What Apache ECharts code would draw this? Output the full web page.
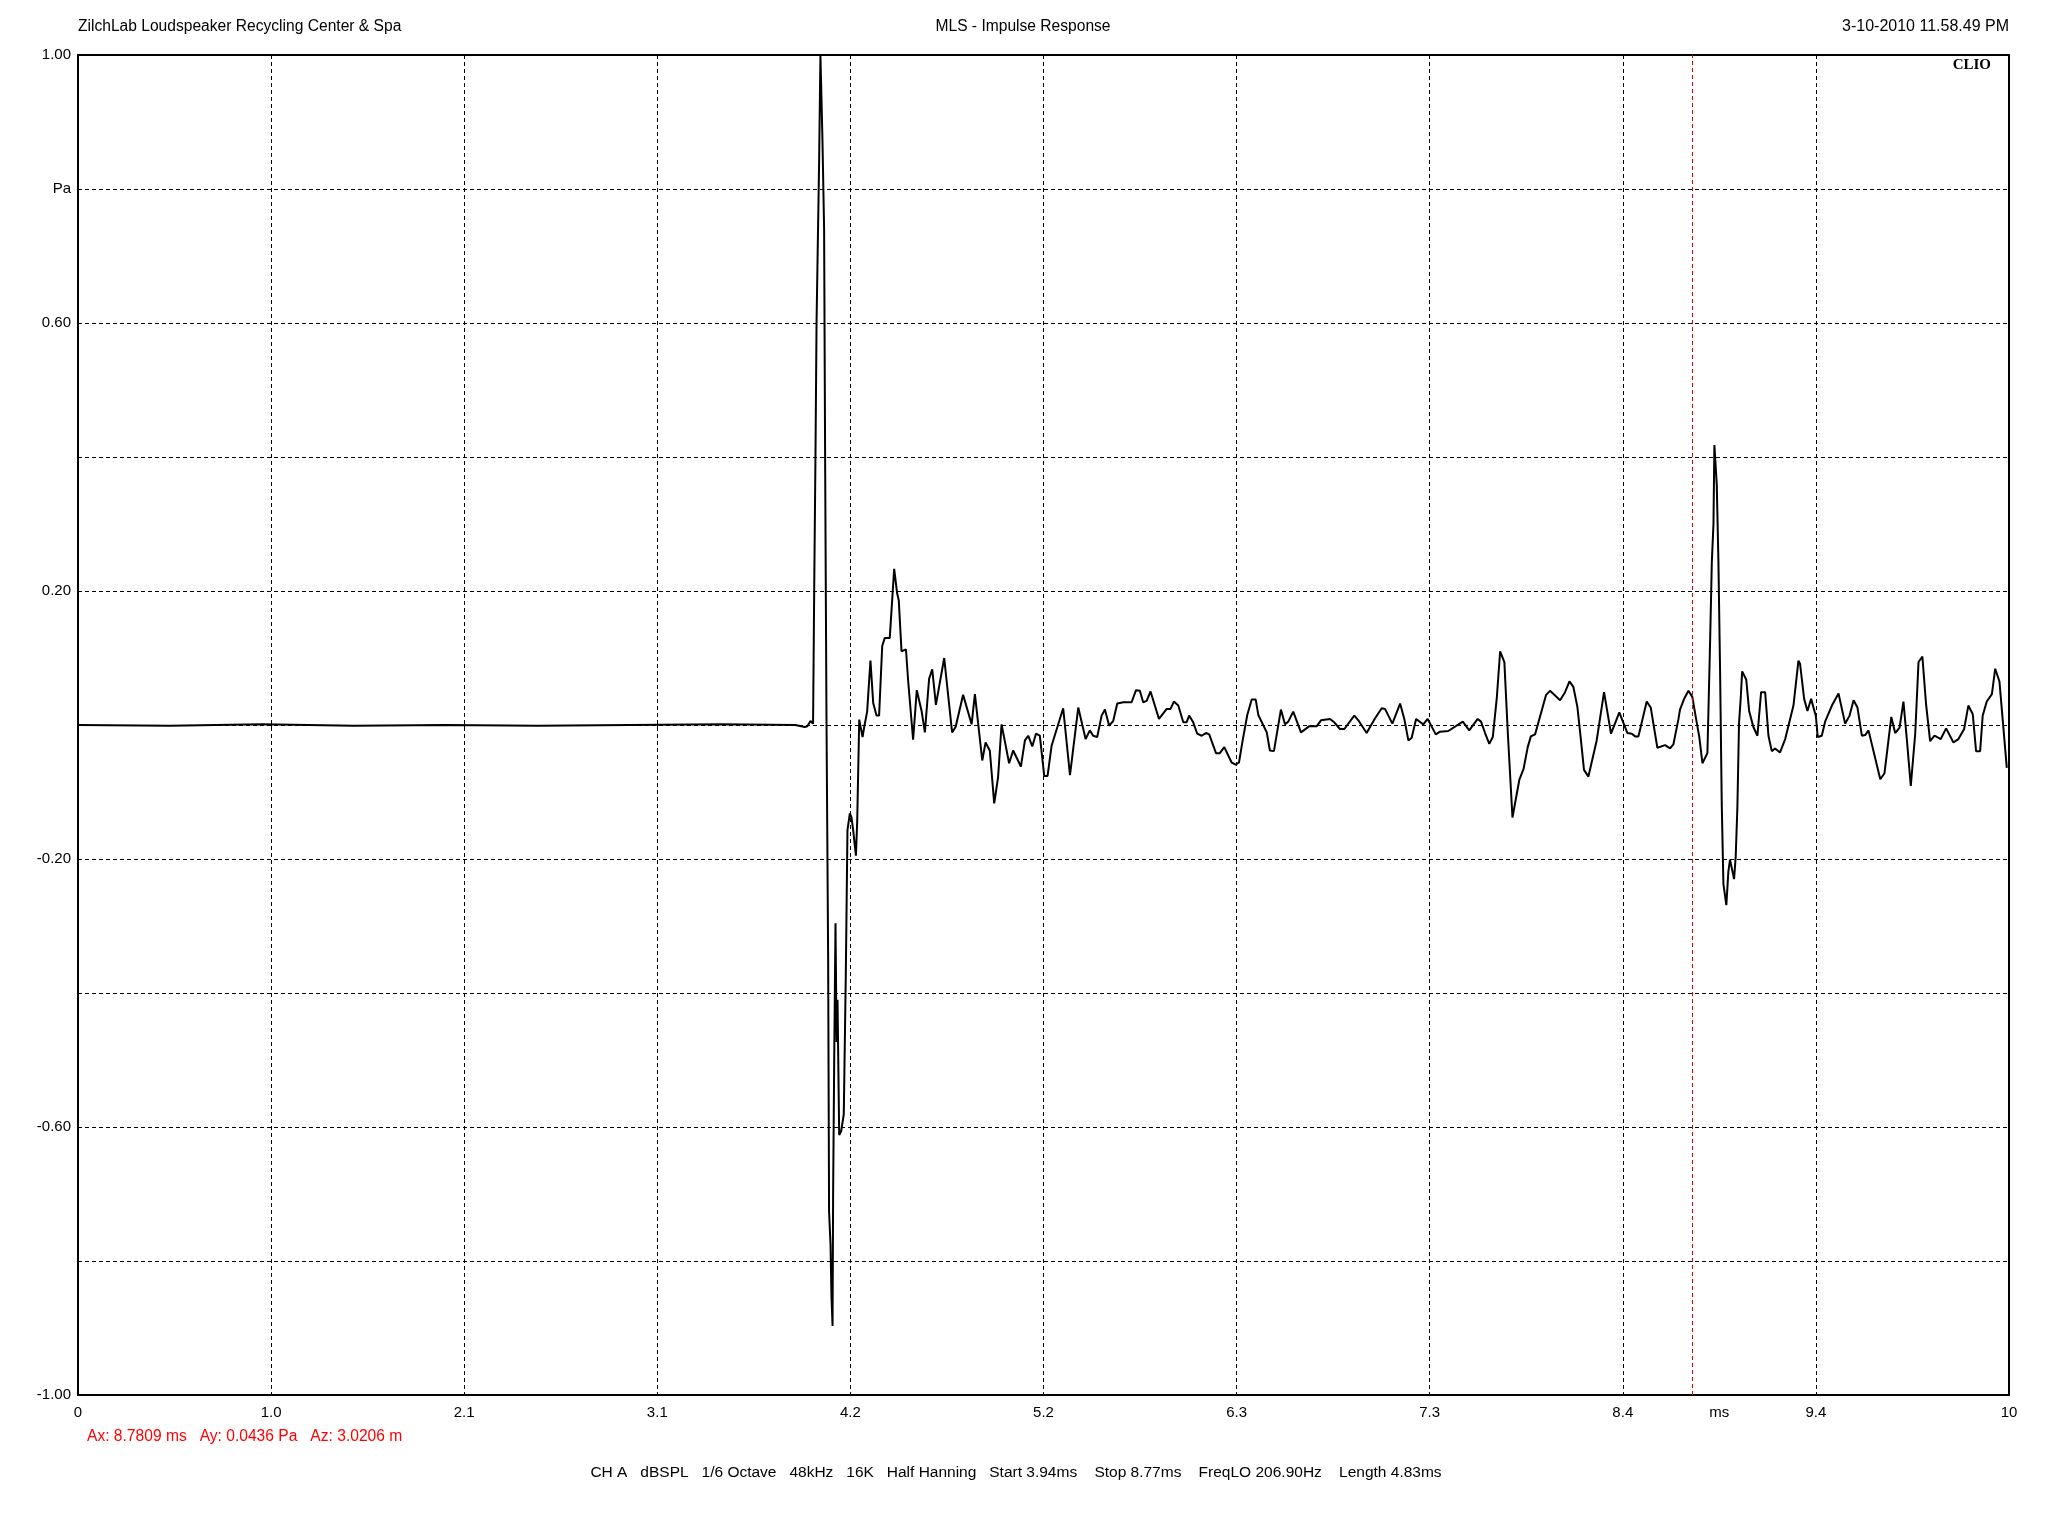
<!DOCTYPE html>
<html><head><meta charset="utf-8">
<script src="https://cdn.jsdelivr.net/npm/echarts@6/dist/echarts.min.js"></script>
<style>html,body{margin:0;padding:0;background:#fff}#c{width:2048px;height:1536px}</style>
</head><body><div id="c"></div><script>
// ---- data ----
const timeMs = [
0,0.5,1.0,1.5,2.0,2.5,3.0,3.5,3.9,3.952,3.966,3.983,3.997,
4.003,4.010,4.016,4.030,4.037,4.046,4.048,4.057,4.063,4.070,4.079,4.084,4.092,4.097,4.103,4.106,
4.112,4.119,4.125,4.130,4.139,4.150,4.164,4.175,4.184,4.197,4.206,4.215,4.230,4.237,4.248,4.266,
4.275,4.291,4.309,4.324,4.342,4.356,4.373,4.387,4.414,4.438,4.454,4.463,4.478,4.502,4.514,4.541,
4.561,4.587,4.605,4.628,4.645,4.665,4.710,4.753,4.772,4.813,4.859,4.877,4.917,4.935,4.958,4.982,
5.003,5.022,5.063,5.085,5.127,5.149,5.167,5.189,5.209,5.230,5.254,5.272,5.294,5.357,5.394,5.439,
5.479,5.502,5.520,5.542,5.566,5.584,5.607,5.629,5.651,5.684,5.729,5.753,5.774,5.792,5.811,5.832,
5.878,5.920,5.941,5.959,5.983,6.010,6.028,6.042,6.064,6.086,6.110,6.133,6.151,6.188,6.209,6.233,
6.273,6.295,6.313,6.333,6.358,6.382,6.404,6.418,6.464,6.481,6.503,6.541,6.563,6.581,6.608,6.650,
6.694,6.735,6.759,6.808,6.831,6.862,6.886,6.940,6.962,7.007,7.053,7.089,7.107,7.147,7.189,7.212,
7.234,7.252,7.276,7.315,7.339,7.383,7.406,7.451,7.530,7.565,7.611,7.629,7.651,7.674,7.693,7.715,
7.733,7.756,7.775,7.800,7.838,7.860,7.883,7.900,7.923,7.983,8.004,8.032,8.059,8.086,8.110,8.131,
8.153,8.168,8.189,8.213,8.258,8.298,8.336,8.381,8.425,8.449,8.467,8.485,8.530,8.552,8.588,8.630,
8.657,8.675,8.702,8.711,8.735,8.757,8.778,8.798,8.816,8.833,8.860,8.865,8.875,8.884,8.893,8.898,
8.907,8.911,8.920,8.929,8.938,8.947,8.956,8.963,8.974,8.983,8.993,9.005,9.014,9.023,9.032,9.041,
9.049,9.071,9.087,9.110,9.132,9.152,9.174,9.192,9.210,9.228,9.255,9.283,9.328,9.355,9.364,9.386,
9.404,9.424,9.450,9.460,9.482,9.500,9.537,9.573,9.609,9.633,9.655,9.676,9.700,9.718,9.736,9.800,
9.823,9.860,9.881,9.905,9.926,9.945,9.966,9.990,10.008,10.029,10.049,10.071,10.095,10.129,10.158,10.198,
10.225,10.256,10.279,10.303,10.321,10.343,10.357,10.379,10.407,10.425,10.448,10.488
];
const pressurePa = [
0,-0.001,0.001,-0.001,0,-0.001,0,0.001,0,-0.003,-0.002,0.006,0.002,
0.197,0.400,0.602,0.842,1.0,1.0,0.874,0.741,0.374,0.008,-0.347,-0.726,-0.776,-0.853,-0.897,-0.701,
-0.498,-0.296,-0.473,-0.410,-0.612,-0.606,-0.581,-0.372,-0.157,-0.132,-0.138,-0.157,-0.195,-0.144,0.008,-0.018,
-0.003,0.020,0.096,0.033,0.014,0.014,0.118,0.130,0.130,0.233,0.197,0.186,0.110,0.113,0.066,-0.022,
0.052,0.021,-0.011,0.069,0.083,0.030,0.100,-0.011,-0.003,0.045,0.001,0.046,-0.053,-0.026,-0.038,-0.117,
-0.078,0.001,-0.057,-0.038,-0.062,-0.023,-0.016,-0.032,-0.013,-0.016,-0.076,-0.076,-0.031,0.025,-0.075,0.026,
-0.021,-0.008,-0.016,-0.018,0.014,0.023,-0.001,0.006,0.032,0.034,0.034,0.052,0.051,0.034,0.036,0.050,
0.009,0.024,0.024,0.035,0.029,0.004,0.004,0.014,0.004,-0.013,-0.016,-0.012,-0.014,-0.042,-0.042,-0.033,
-0.056,-0.059,-0.056,-0.023,0.015,0.038,0.038,0.015,-0.011,-0.038,-0.039,0.023,0.001,0.005,0.020,-0.011,
-0.002,-0.002,0.007,0.009,0.004,-0.006,-0.006,0.014,0.007,-0.012,0.010,0.025,0.024,0.002,0.032,0.009,
-0.023,-0.019,0.009,0.001,0.009,-0.014,-0.010,-0.009,0.005,-0.008,0.009,0.005,-0.012,-0.028,-0.018,0.041,
0.110,0.094,-0.013,-0.138,-0.081,-0.066,-0.033,-0.017,-0.014,0.045,0.051,0.044,0.037,0.049,0.065,0.057,
0.027,-0.011,-0.067,-0.077,-0.023,0.049,-0.013,0.019,-0.012,-0.013,-0.017,-0.017,0.035,0.026,-0.034,-0.030,
-0.035,-0.029,0.008,0.023,0.040,0.051,0.042,0.010,-0.018,-0.057,-0.042,0.013,0.128,0.243,0.300,0.418,
0.418,0.358,0.243,0.081,-0.117,-0.237,-0.235,-0.269,-0.219,-0.201,-0.214,-0.230,-0.196,-0.123,0.003,0.039,
0.080,0.068,0.021,-0.003,-0.016,0.049,0.049,-0.016,-0.039,-0.035,-0.041,-0.021,0.029,0.096,0.091,0.039,
0.021,0.039,0.013,-0.018,-0.016,0.005,0.029,0.047,0.002,0.014,0.037,0.026,-0.016,-0.015,-0.008,-0.081,
-0.072,0.012,-0.012,-0.004,0.035,-0.023,-0.091,-0.013,0.094,0.102,0.031,-0.024,-0.016,-0.021,-0.005,-0.026,
-0.021,-0.006,0.029,0.016,-0.039,-0.039,0.014,0.035,0.046,0.084,0.065,-0.064
];
const xTickLabels = ['0','1.0','2.1','3.1','4.2','5.2','6.3','7.3','8.4','9.4','10'];
const yTickLabels = ['-1.00','','-0.60','','-0.20','','0.20','','0.60','Pa','1.00'];
const xMin = 0, xMax = 10.5, xStep = 1.05;
const yMin = -1, yMax = 1, yStep = 0.2;
const xUnit = 'ms';
const xUnitAt = 8.925;
const cursorMs = 8.7809;
const titleLeft = 'ZilchLab Loudspeaker Recycling Center & Spa';
const titleCenter = 'MLS - Impulse Response';
const titleRight = '3-10-2010 11.58.49 PM';
const cursorText = 'Ax: 8.7809 ms   Ay: 0.0436 Pa   Az: 3.0206 m';
const infoText = 'CH A   dBSPL   1/6 Octave   48kHz   16K   Half Hanning   Start 3.94ms    Stop 8.77ms    FreqLO 206.90Hz    Length 4.83ms';
const brand = 'CLIO';

const FONT = '"Liberation Sans", Arial, sans-serif';
const chart = echarts.init(document.getElementById('c'), null, {renderer:'canvas'});
const seriesData = timeMs.map((t,i)=>[t, pressurePa[i]]);
const dash = [4,3];
chart.setOption({
  animation:false,
  backgroundColor:'#fff',
  grid:{left:78, right:39, top:55, bottom:141, show:true, borderColor:'#000', borderWidth:2, backgroundColor:'transparent'},
  xAxis:[{
    type:'value', min:xMin, max:xMax, interval:xStep,
    axisLine:{show:false},
    axisTick:{show:true, length:6, lineStyle:{color:'#000', width:1}},
    axisLabel:{color:'#000', fontSize:15, fontFamily:FONT, margin:10,
      formatter:v=>xTickLabels[Math.round((v-xMin)/xStep)] ?? ''},
    splitLine:{show:true, lineStyle:{color:'#000', width:1, type:dash}}
  },{
    type:'value', min:xMin, max:xMax, interval:xStep/2, position:'bottom',
    axisLine:{show:false}, axisTick:{show:false}, splitLine:{show:false},
    axisLabel:{color:'#000', fontSize:15, fontFamily:FONT, margin:10,
      formatter:v=>Math.abs(v-xUnitAt)<1e-3 ? xUnit : ''}
  }],
  yAxis:{
    type:'value', min:yMin, max:yMax, interval:yStep,
    axisLine:{show:false}, axisTick:{show:false},
    axisLabel:{color:'#000', fontSize:15, fontFamily:FONT, margin:7,
      formatter:v=>yTickLabels[Math.round((v-yMin)/yStep)] ?? ''},
    splitLine:{show:true, lineStyle:{color:'#000', width:1, type:dash}}
  },
  series:[{
    type:'line', xAxisIndex:0, data:seriesData, showSymbol:false, symbol:'none',
    lineStyle:{color:'#000', width:2}, clip:true, z:3,
    markLine:{silent:true, symbol:'none', label:{show:false},
      lineStyle:{color:'#e00000', width:1, type:dash},
      data:[{xAxis:cursorMs}]}
  }],
  graphic:[
    {type:'text', x:78, y:27, style:{text:titleLeft, font:'15.6px '+FONT, fill:'#000', textAlign:'left', textVerticalAlign:'middle', verticalAlign:'middle'}},
    {type:'text', x:1023, y:27, style:{text:titleCenter, font:'15.6px '+FONT, fill:'#000', textAlign:'center', textVerticalAlign:'middle', verticalAlign:'middle'}},
    {type:'text', x:2009, y:27, style:{text:titleRight, font:'16px '+FONT, fill:'#000', textAlign:'right', textVerticalAlign:'middle', verticalAlign:'middle'}},
    {type:'text', x:1991, y:65, z:10, style:{text:brand, font:'bold 15px "Liberation Serif", "Times New Roman", serif', fill:'#000', textAlign:'right', textVerticalAlign:'middle', verticalAlign:'middle'}},
    {type:'text', x:87, y:1437, style:{text:cursorText, font:'15.6px '+FONT, fill:'#ff0000', textAlign:'left', textVerticalAlign:'middle', verticalAlign:'middle'}},
    {type:'text', x:1016, y:1473, style:{text:infoText, font:'15.5px '+FONT, fill:'#000', textAlign:'center', textVerticalAlign:'middle', verticalAlign:'middle'}}
  ]
});
</script></body></html>
